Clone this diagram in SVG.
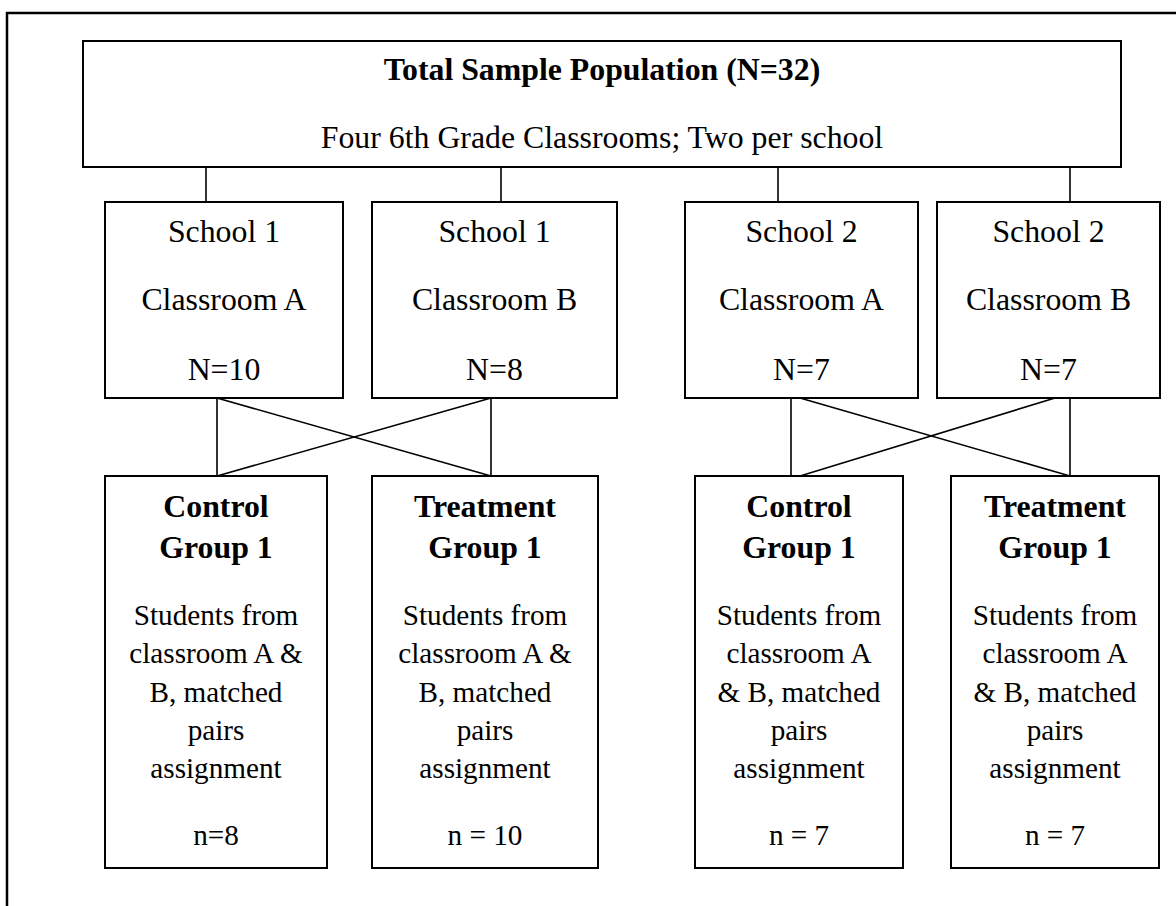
<svg xmlns="http://www.w3.org/2000/svg" width="1176" height="906" viewBox="0 0 1176 906">
<style>
.box{fill:#fff;stroke:#000;stroke-width:2}
.t{font-family:"Liberation Serif","Times New Roman",serif;fill:#000;text-anchor:middle}
.big{font-size:31.8px}
.sm{font-size:29.2px}
.b{font-weight:bold}
.c line{stroke:#000;stroke-width:1.6}
</style>
<rect x="0" y="0" width="1176" height="906" fill="#fff"/>
<g id="frame"><path d="M7,906 V13 H1176" fill="none" stroke="#000" stroke-width="2.5"/></g>
<g class="c" id="connectors">
<line x1="206" y1="167" x2="206" y2="202"/>
<line x1="501" y1="167" x2="501" y2="202"/>
<line x1="778" y1="167" x2="778" y2="202"/>
<line x1="1070" y1="167" x2="1070" y2="202"/>
<line x1="217" y1="398" x2="217" y2="476"/>
<line x1="491" y1="398" x2="491" y2="476"/>
<line x1="217" y1="398" x2="491" y2="476"/>
<line x1="491" y1="398" x2="217" y2="476"/>
<line x1="791" y1="398" x2="791" y2="476"/>
<line x1="1070" y1="398" x2="1070" y2="476"/>
<line x1="800" y1="398" x2="1070" y2="476"/>
<line x1="1055" y1="398" x2="800" y2="476"/>
</g>
<g id="total">
<rect class="box" x="83" y="41" width="1038" height="126"/>
<text class="t big b" x="602" y="80">Total Sample Population (N=32)</text>
<text class="t big" x="602" y="148">Four 6th Grade Classrooms; Two per school</text>
</g>
<g id="s1a">
<rect class="box" x="105" y="202" width="238" height="196"/>
<text class="t big" x="224" y="242">School 1</text>
<text class="t big" x="224" y="310">Classroom A</text>
<text class="t big" x="224" y="380">N=10</text>
</g>
<g id="s1b">
<rect class="box" x="372" y="202" width="245" height="196"/>
<text class="t big" x="494.5" y="242">School 1</text>
<text class="t big" x="494.5" y="310">Classroom B</text>
<text class="t big" x="494.5" y="380">N=8</text>
</g>
<g id="s2a">
<rect class="box" x="685" y="202" width="233" height="196"/>
<text class="t big" x="801.5" y="242">School 2</text>
<text class="t big" x="801.5" y="310">Classroom A</text>
<text class="t big" x="801.5" y="380">N=7</text>
</g>
<g id="s2b">
<rect class="box" x="937" y="202" width="223" height="196"/>
<text class="t big" x="1048.5" y="242">School 2</text>
<text class="t big" x="1048.5" y="310">Classroom B</text>
<text class="t big" x="1048.5" y="380">N=7</text>
</g>
<g id="c1">
<rect class="box" x="105" y="476" width="222" height="392"/>
<text class="t big b" x="216" y="517">Control</text>
<text class="t big b" x="216" y="558">Group 1</text>
<text class="t sm" x="216" y="625">Students from</text>
<text class="t sm" x="216" y="663">classroom A &amp;</text>
<text class="t sm" x="216" y="702">B, matched</text>
<text class="t sm" x="216" y="740">pairs</text>
<text class="t sm" x="216" y="778">assignment</text>
<text class="t sm" x="216" y="845">n=8</text>
</g>
<g id="t1">
<rect class="box" x="372" y="476" width="226" height="392"/>
<text class="t big b" x="485" y="517">Treatment</text>
<text class="t big b" x="485" y="558">Group 1</text>
<text class="t sm" x="485" y="625">Students from</text>
<text class="t sm" x="485" y="663">classroom A &amp;</text>
<text class="t sm" x="485" y="702">B, matched</text>
<text class="t sm" x="485" y="740">pairs</text>
<text class="t sm" x="485" y="778">assignment</text>
<text class="t sm" x="485" y="845">n = 10</text>
</g>
<g id="c2">
<rect class="box" x="695" y="476" width="208" height="392"/>
<text class="t big b" x="799" y="517">Control</text>
<text class="t big b" x="799" y="558">Group 1</text>
<text class="t sm" x="799" y="625">Students from</text>
<text class="t sm" x="799" y="663">classroom A</text>
<text class="t sm" x="799" y="702">&amp; B, matched</text>
<text class="t sm" x="799" y="740">pairs</text>
<text class="t sm" x="799" y="778">assignment</text>
<text class="t sm" x="799" y="845">n = 7</text>
</g>
<g id="t2">
<rect class="box" x="951" y="476" width="208" height="392"/>
<text class="t big b" x="1055" y="517">Treatment</text>
<text class="t big b" x="1055" y="558">Group 1</text>
<text class="t sm" x="1055" y="625">Students from</text>
<text class="t sm" x="1055" y="663">classroom A</text>
<text class="t sm" x="1055" y="702">&amp; B, matched</text>
<text class="t sm" x="1055" y="740">pairs</text>
<text class="t sm" x="1055" y="778">assignment</text>
<text class="t sm" x="1055" y="845">n = 7</text>
</g>
</svg>
